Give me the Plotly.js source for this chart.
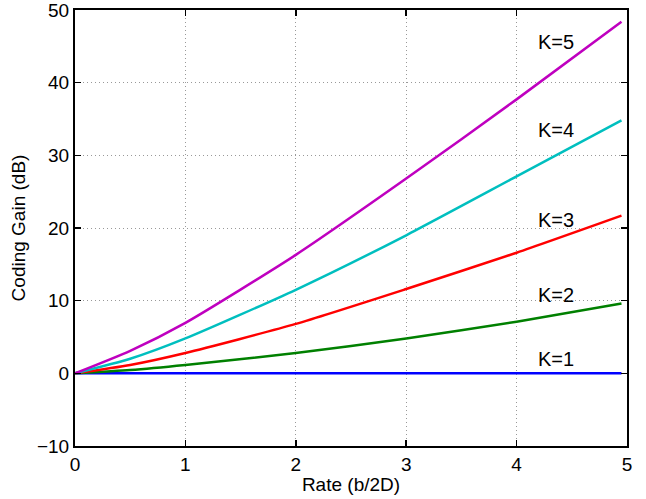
<!DOCTYPE html>
<html>
<head>
<meta charset="utf-8">
<script src="https://cdn.plot.ly/plotly-3.0.1.min.js"></script>
<style>html,body{margin:0;padding:0;background:#fff;}#chart{width:646px;height:499px;}</style>
</head>
<body>
<div id="chart"></div>
<script>
const rate = [0, 0.5, 1, 2, 3, 4, 4.95];
const gainK1 = [0, 0, 0, 0, 0, 0, 0];
const gainK2 = [0, 0.45, 1.15, 2.8, 4.8, 7.1, 9.6];
const gainK3 = [0, 1.15, 2.8, 6.8, 11.6, 16.6, 21.7];
const gainK4 = [0, 2.0, 4.8, 11.5, 19.0, 27.1, 34.8];
const gainK5 = [0, 3.1, 6.95, 16.3, 26.8, 37.7, 48.4];
const seriesNames = ["K=1", "K=2", "K=3", "K=4", "K=5"];
const seriesColors = ["#0000ff", "#008000", "#ff0000", "#00bfbf", "#bf00bf"];
const labelX = 4.36;
const labelY = [2.0, 10.8, 21.1, 33.5, 45.6];
const xTicks = [0, 1, 2, 3, 4, 5];
const yTicks = [-10, 0, 10, 20, 30, 40, 50];

const series = [gainK1, gainK2, gainK3, gainK4, gainK5];
const traces = series.map((ys, i) => ({
  x: rate, y: ys, type: 'scatter', mode: 'lines', name: seriesNames[i],
  line: {color: seriesColors[i], width: 2.5, shape: 'spline', smoothing: 0.6},
  hoverinfo: 'skip'
}));

const font = {family: '"Liberation Sans", Arial, Helvetica, sans-serif', color: '#000'};
const annotations = seriesNames.map((n, i) => ({
  x: labelX, y: labelY[i], xref: 'x', yref: 'y', text: n, showarrow: false,
  font: Object.assign({}, font, {size: 20})
}));

const axisCommon = {
  showline: true, linecolor: '#000', linewidth: 2, mirror: 'ticks',
  ticks: 'inside', ticklen: 6, tickwidth: 1.5, tickcolor: '#000',
  showgrid: true, gridcolor: '#999999', gridwidth: 1, griddash: '1px,3px',
  zeroline: false, ticklabeloverflow: 'allow',
  tickfont: Object.assign({}, font, {size: 19})
};

const layout = {
  width: 646, height: 499,
  margin: {l: 75, r: 19, t: 10, b: 53},
  paper_bgcolor: '#fff', plot_bgcolor: '#fff',
  showlegend: false,
  font: font,
  xaxis: Object.assign({}, axisCommon, {
    range: [0, 5], tickvals: xTicks, ticktext: xTicks.map(String),
    title: {text: 'Rate (b/2D)', font: Object.assign({}, font, {size: 19}), standoff: 4}
  }),
  yaxis: Object.assign({}, axisCommon, {
    range: [-10, 50], tickvals: yTicks, ticktext: yTicks.map(v => v < 0 ? '\u2212' + Math.abs(v) : String(v)),
    title: {text: 'Coding Gain (dB)', font: Object.assign({}, font, {size: 19}), standoff: 6}
  }),
  annotations: annotations
};

Plotly.newPlot('chart', traces, layout, {displayModeBar: false, staticPlot: true});
</script>
</body>
</html>
